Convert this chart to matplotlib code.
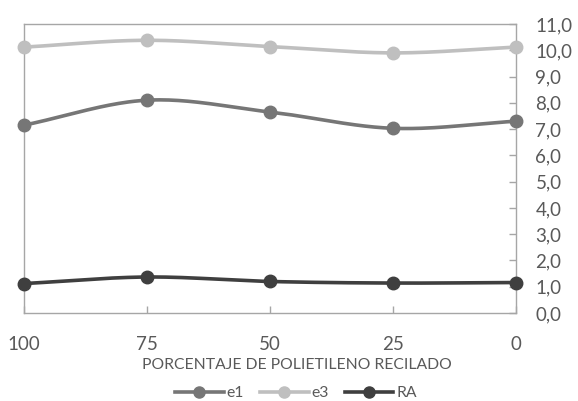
import numpy as np
import matplotlib
matplotlib.use("Agg")
import matplotlib.pyplot as plt
from matplotlib.lines import Line2D

plt.rcParams['font.family'] = ['Lato', 'DejaVu Sans']

porcentaje = [100, 75, 50, 25, 0]
e1 = [7.15, 8.10, 7.65, 7.03, 7.30]
e3 = [10.12, 10.38, 10.14, 9.90, 10.12]
ra = [1.12, 1.37, 1.20, 1.14, 1.16]
yticks = np.arange(0, 11.01, 1.0)

series = [("e1", e1, "#767676"), ("e3", e3, "#bfbfbf"), ("RA", ra, "#3f3f3f")]


def smooth(x, y, n=40):
    """Catmull-Rom curve through the points (smoothed line style)."""
    x = np.asarray(x, float)
    y = np.asarray(y, float)
    px = np.concatenate([[2 * x[0] - x[1]], x, [2 * x[-1] - x[-2]]])
    py = np.concatenate([[2 * y[0] - y[1]], y, [2 * y[-1] - y[-2]]])
    xs, ys = [], []
    for i in range(1, len(px) - 2):
        t = np.linspace(0, 1, n)
        t2, t3 = t * t, t * t * t
        for p, out in ((px, xs), (py, ys)):
            p0, p1, p2, p3 = p[i - 1], p[i], p[i + 1], p[i + 2]
            out.extend(0.5 * ((2 * p1) + (-p0 + p2) * t
                              + (2 * p0 - 5 * p1 + 4 * p2 - p3) * t2
                              + (-p0 + 3 * p1 - 3 * p2 + p3) * t3))
    return np.array(xs), np.array(ys)


fig = plt.figure(figsize=(5.78, 4.01), dpi=100)
ax = fig.add_axes([24 / 578, 88 / 401, 492 / 578, 289 / 401])

for name, vals, col in series:
    sx, sy = smooth(porcentaje, vals)
    ax.plot(sx, sy, color=col, lw=2.6, solid_capstyle="round", clip_on=False, zorder=3)
    ax.plot(porcentaje, vals, "o", color=col, ms=9, clip_on=False, zorder=4)

ax.set_xlim(100, 0)
ax.set_ylim(0, 11)
ax.set_xticks(porcentaje)
ax.set_xticklabels([str(p) for p in porcentaje])
ax.set_yticks(yticks)
ax.set_yticklabels([f"{v:.1f}".replace(".", ",") for v in yticks])
ax.yaxis.tick_right()

axis_col = "#a6a6a6"
for s in ax.spines.values():
    s.set_color(axis_col)
    s.set_linewidth(1.0)

ax.tick_params(axis="y", direction="in", length=5, color=axis_col, width=1,
               labelsize=13.5, labelcolor="#595959", pad=14, left=False, right=True)
ax.tick_params(axis="x", direction="in", length=5, color=axis_col, width=1,
               labelsize=13.5, labelcolor="#595959", pad=16.5)

# axis title, centred on the whole chart
fig.text(297 / 578, 1 - 365 / 401, "PORCENTAJE DE POLIETILENO RECILADO",
         fontsize=11.3, color="#595959", ha="center", va="center")

handles = [Line2D([], [], color=col, lw=2.6, marker="o", ms=8) for _, _, col in series]
fig.legend(handles, [n for n, _, _ in series], loc="center",
           bbox_to_anchor=(296 / 578, 1 - 393 / 401), ncol=3, frameon=False,
           fontsize=11.3, labelcolor="#595959", handlelength=3.1,
           handletextpad=0.2, columnspacing=1.0, borderpad=0)

fig.savefig("out.png", dpi=100)
